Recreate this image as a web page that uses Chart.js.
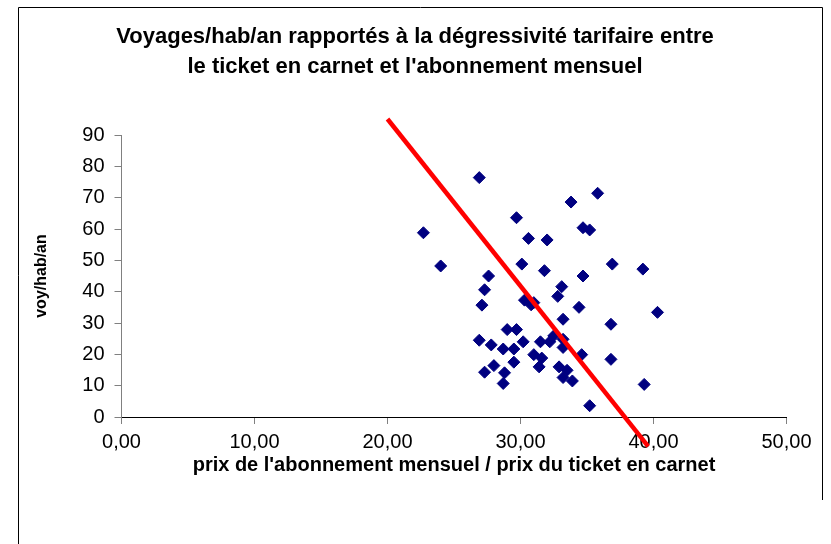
<!DOCTYPE html>
<html>
<head>
<meta charset="utf-8">
<script src="https://cdn.jsdelivr.net/npm/chart.js@4/dist/chart.umd.min.js"></script>
<style>
  body { margin: 0; background: #fff; }
  canvas { display: block; }
</style>
</head>
<body>
<canvas id="myChart" width="831" height="544"></canvas>
<script>
// titres
const titreLignes = ["Voyages/hab/an rapportés à la dégressivité tarifaire entre", "le ticket en carnet et l'abonnement mensuel"];
const titreX = "prix de l'abonnement mensuel / prix du ticket en carnet";
const titreY = "voy/hab/an";

// points (prix abonnement / prix ticket, voyages par habitant et par an)
const prixRatio = [22.7, 24.0, 26.9, 35.8, 33.8, 29.7, 34.7, 35.2, 30.6, 32.0,
  30.1, 36.9, 39.2, 31.8, 27.6, 34.7, 33.1, 27.3, 32.8, 30.3,
  30.8, 31.0, 27.1, 34.4, 40.3, 33.2, 36.8, 29.0, 29.7, 26.9,
  27.8, 28.7, 29.5, 30.2, 31.5, 32.2, 32.5, 33.2, 33.2, 34.6,
  31.0, 31.6, 31.4, 29.5, 28.0, 27.3, 28.8, 28.7, 32.9, 33.5,
  33.2, 33.9, 36.8, 39.3, 35.2];
const voyHab = [58.8, 48.2, 76.4, 71.4, 68.6, 63.6, 60.4, 59.7, 57.0, 56.5,
  48.8, 48.8, 47.2, 46.7, 45.0, 45.0, 41.6, 40.6, 38.5, 37.3,
  35.8, 36.5, 35.7, 35.0, 33.4, 31.2, 29.6, 27.9, 27.9, 24.5,
  23.0, 21.7, 21.7, 24.0, 24.0, 24.0, 25.9, 24.8, 22.2, 19.9,
  19.9, 18.8, 16.0, 17.5, 16.4, 14.3, 14.1, 10.7, 16.0, 14.9,
  12.6, 11.5, 18.4, 10.4, 3.6];

// droite de tendance
const tendanceX = [20.0, 39.6];
const tendanceY = [95.1, -9.4];

const xTicks = [0, 10, 20, 30, 40, 50];
const yTicks = [0, 10, 20, 30, 40, 50, 60, 70, 80, 90];

const points = prixRatio.map((x, i) => ({ x: x, y: voyHab[i] }));
const tendance = tendanceX.map((x, i) => ({ x: x, y: tendanceY[i] }));

// cadre + titre
const cadre = {
  id: "cadre",
  afterDraw(chart) {
    const ctx = chart.ctx;
    ctx.save();
    ctx.strokeStyle = "#000";
    ctx.lineWidth = 1;
    ctx.beginPath();
    ctx.moveTo(18.5, 544);
    ctx.lineTo(18.5, 7.5);
    ctx.lineTo(822.5, 7.5);
    ctx.lineTo(822.5, 500);
    ctx.stroke();
    ctx.fillStyle = "#000";
    ctx.font = "bold 22px 'Liberation Sans', Arial, sans-serif";
    ctx.textAlign = "center";
    ctx.textBaseline = "middle";
    ctx.fillText(titreLignes[0], 415, 37);
    ctx.fillText(titreLignes[1], 415, 67);
    ctx.restore();
  }
};

const ctx = document.getElementById("myChart").getContext("2d");
new Chart(ctx, {
  type: "scatter",
  data: {
    datasets: [
      {
        data: points,
        pointStyle: "rectRot",
        pointRadius: 6,
        backgroundColor: "#000080",
        borderColor: "#000080",
        borderWidth: 1,
        order: 2
      },
      {
        type: "line",
        data: tendance,
        showLine: true,
        borderColor: "#ff0000",
        borderWidth: 4.5,
        pointRadius: 0,
        fill: false,
        clip: false,
        order: 1
      }
    ]
  },
  options: {
    responsive: false,
    animation: false,
    layout: { padding: { left: 0, right: 44.5, top: 135, bottom: 0 } },
    plugins: { legend: { display: false }, tooltip: { enabled: false } },
    scales: {
      x: {
        type: "linear",
        min: 0,
        max: 50,
        afterFit(scale) { scale.height = 127; },
        afterBuildTicks(scale) { scale.ticks = xTicks.map(v => ({ value: v })); },
        ticks: {
          padding: 6,
          color: "#000",
          font: { family: "'Liberation Sans', Arial, sans-serif", size: 20 },
          callback: (v) => v.toFixed(2).replace(".", ",")
        },
        grid: { drawOnChartArea: false, drawTicks: true, tickLength: 7, color: "#808080" },
        border: { color: "#000", width: 1 },
        title: {
          display: true,
          text: titreX,
          color: "#000",
          font: { family: "'Liberation Sans', Arial, sans-serif", size: 20, weight: "bold" },
          padding: { top: 0, bottom: 67 }
        }
      },
      y: {
        type: "linear",
        min: 0,
        max: 90,
        afterFit(scale) { scale.width = 121.5; },
        afterBuildTicks(scale) { scale.ticks = yTicks.map(v => ({ value: v })); },
        ticks: {
          padding: 10,
          color: "#000",
          font: { family: "'Liberation Sans', Arial, sans-serif", size: 20 }
        },
        grid: { drawOnChartArea: false, drawTicks: true, tickLength: 7, color: "#808080" },
        border: { color: "#808080", width: 1 },
        title: {
          display: true,
          text: titreY,
          color: "#000",
          font: { family: "'Liberation Sans', Arial, sans-serif", size: 16, weight: "bold" },
          padding: { top: 32, bottom: 0 }
        }
      }
    }
  },
  plugins: [cadre]
});
</script>
</body>
</html>
